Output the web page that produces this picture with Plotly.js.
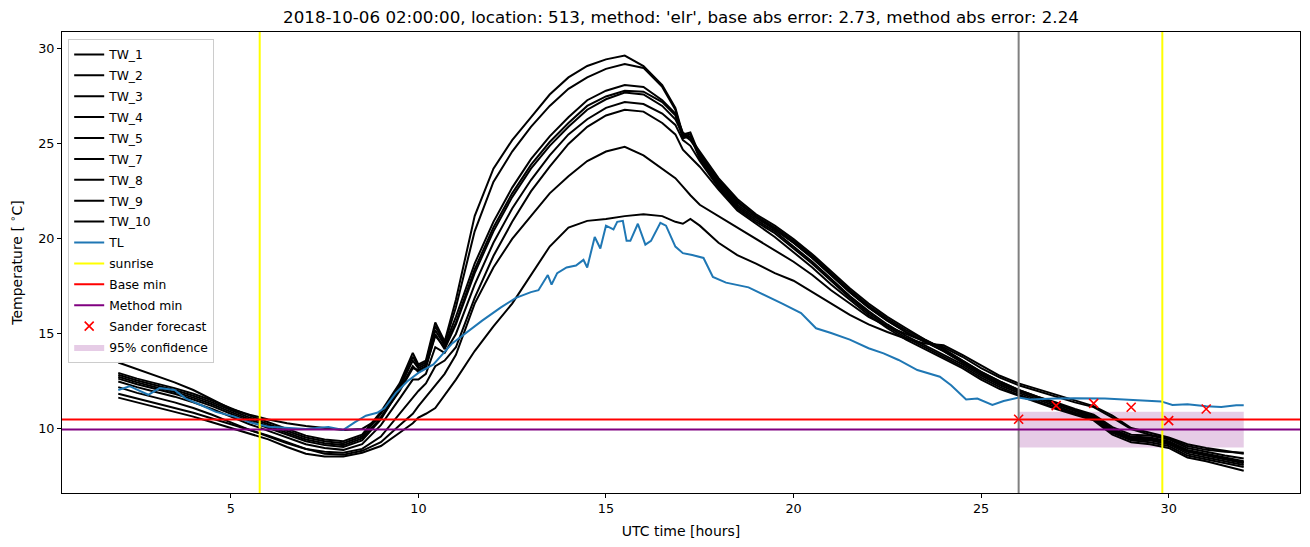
<!DOCTYPE html>
<html>
<head>
<meta charset="utf-8">
<script src="https://cdn.plot.ly/plotly-3.0.1.min.js"></script>
<style>
html,body{margin:0;padding:0;background:#fff;}
#chart{width:1310px;height:547px;}
</style>
</head>
<body>
<div id="chart"></div>
<script>
// ---- data ----
const hours = [2,2.5,3,3.5,4,4.5,5,5.5,6,6.5,7,7.5,8,8.5,9,9.5,
  9.85,10,10.2,10.45,10.7,11,
  11.5,12,12.5,13,13.5,14,14.5,15,15.5,16,16.5,
  16.85,17.05,17.25,17.5,
  18,18.5,19,19.5,20,20.5,21,21.5,22,22.5,23,23.5,24,24.5,25,25.5,26,26.5,27,27.5,28,28.5,29,29.5,30,30.5,31,31.5,32];

const twNames = ['TW_1','TW_2','TW_3','TW_4','TW_5','TW_7','TW_8','TW_9','TW_10'];

const tw1 = [12.95,12.65,12.4,12.15,11.85,11.5,11.1,10.7,10.35,10.0,9.65,9.45,9.35,9.7,10.9,12.4,
  14.0,13.4,13.6,15.6,14.6,16.8,
  21.2,23.7,25.2,26.4,27.6,28.5,29.1,29.45,29.65,29.1,28.1,
  26.9,25.5,25.6,24.4,
  23.0,21.9,21.2,20.6,19.9,19.1,18.2,17.3,16.5,15.8,15.2,14.7,14.2,13.6,13.0,12.5,12.05,11.7,11.35,11.0,10.7,10.0,9.6,9.55,9.35,8.9,8.7,8.5,8.3];
const tw2 = [12.85,12.55,12.3,12.05,11.75,11.4,11.0,10.6,10.25,9.9,9.55,9.35,9.25,9.6,10.8,12.3,
  13.8,13.3,13.5,15.4,14.5,16.4,
  20.4,23.0,24.6,25.9,27.0,27.9,28.5,28.95,29.2,29.0,28.0,
  26.8,25.4,25.5,24.3,
  22.9,21.8,21.1,20.5,19.8,19.0,18.1,17.2,16.4,15.7,15.1,14.6,14.1,13.5,12.9,12.4,12.0,11.65,11.3,10.95,10.6,9.9,9.5,9.45,9.25,8.8,8.6,8.4,8.2];
const tw3 = [12.75,12.45,12.2,11.95,11.65,11.3,10.9,10.5,10.15,9.8,9.45,9.25,9.15,9.5,10.6,12.2,
  13.6,13.2,13.4,15.2,14.4,15.9,
  18.7,20.9,22.7,24.2,25.4,26.4,27.3,27.8,28.1,28.0,27.3,
  26.6,25.6,25.3,24.6,
  23.2,22.1,21.3,20.7,20.0,19.2,18.3,17.4,16.6,15.9,15.3,14.7,14.2,13.6,13.0,12.5,12.05,11.7,11.4,11.05,10.75,10.1,9.7,9.65,9.45,9.0,8.8,8.6,8.45];
const tw4 = [13.5,13.15,12.8,12.45,12.05,11.55,11.05,10.75,10.5,10.3,10.15,10.05,9.95,10.0,10.6,12.0,
  13.2,13.1,13.3,14.9,14.3,15.6,
  18.4,20.6,22.4,23.9,25.1,26.1,27.0,27.5,27.8,27.75,27.2,
  26.5,25.3,25.4,24.2,
  22.8,21.7,21.0,20.4,19.6,18.8,17.9,17.0,16.2,15.5,14.9,14.4,13.9,13.4,12.8,12.3,11.9,11.55,11.2,10.85,10.55,9.85,9.45,9.4,9.2,8.7,8.5,8.3,8.1];
const tw5 = [12.65,12.35,12.1,11.85,11.55,11.2,10.8,10.4,10.05,9.7,9.35,9.15,9.05,9.4,10.5,12.1,
  13.3,13.0,13.2,15.0,14.2,15.5,
  18.2,20.4,22.2,23.7,24.9,25.9,26.8,27.35,27.7,27.6,27.0,
  26.3,25.5,25.2,24.5,
  23.1,22.0,21.2,20.5,19.8,19.0,18.1,17.2,16.4,15.7,15.1,14.6,14.1,13.5,12.9,12.4,12.0,11.65,11.3,10.95,10.65,9.95,9.55,9.5,9.3,8.85,8.65,8.45,8.25];
const tw7 = [12.5,12.2,11.95,11.7,11.4,11.05,10.65,10.25,9.9,9.55,9.2,9.0,8.9,9.2,10.2,11.6,
  12.6,12.6,12.9,14.3,14.0,15.0,
  17.6,19.8,21.6,23.1,24.4,25.5,26.3,26.9,27.2,27.1,26.6,
  26.0,25.2,24.9,24.1,
  22.7,21.6,20.9,20.3,19.5,18.7,17.8,16.9,16.1,15.4,14.8,14.3,13.8,13.3,12.7,12.2,11.8,11.45,11.1,10.8,10.5,9.8,9.4,9.3,9.1,8.6,8.4,8.2,8.0];
const tw8 = [12.2,11.9,11.65,11.4,11.1,10.75,10.35,9.95,9.6,9.25,8.95,8.8,8.75,8.95,9.6,10.8,
  11.6,12.0,12.4,13.3,13.6,14.3,
  16.9,19.1,20.9,22.5,23.8,25.0,25.9,26.5,26.8,26.7,26.1,
  25.5,24.7,24.3,23.8,
  22.6,21.5,20.8,20.1,19.3,18.5,17.6,16.8,16.0,15.3,14.7,14.2,13.7,13.2,12.6,12.1,11.75,11.4,11.05,10.75,10.45,9.7,9.3,9.2,9.0,8.5,8.3,8.05,7.8];
const tw9 = [11.85,11.6,11.35,11.1,10.85,10.55,10.25,9.95,9.65,9.3,8.95,8.7,8.65,8.85,9.3,10.2,
  10.8,11.2,11.7,12.3,12.9,13.9,
  16.6,18.5,20.0,21.2,22.4,23.3,24.1,24.6,24.85,24.4,23.7,
  23.2,22.75,22.3,21.8,
  21.2,20.6,20.0,19.4,18.8,18.1,17.3,16.6,15.9,15.4,15.0,14.6,14.3,13.8,13.2,12.7,12.3,12.0,11.7,11.4,11.15,10.6,10.0,9.7,9.5,9.1,8.9,8.8,8.75];
const tw10 = [11.65,11.4,11.15,10.9,10.65,10.35,10.05,9.75,9.45,9.05,8.7,8.55,8.55,8.75,9.1,9.8,
  10.3,10.6,10.8,11.1,11.8,12.6,
  14.1,15.4,16.6,18.1,19.6,20.6,20.95,21.05,21.2,21.3,21.2,
  20.9,20.8,21.05,20.7,
  19.8,19.15,18.7,18.2,17.8,17.2,16.6,16.0,15.5,15.1,14.75,14.5,14.4,13.9,13.35,12.8,12.4,12.1,11.8,11.5,11.2,10.7,10.05,9.8,9.55,9.2,9.0,8.85,8.7];

const twSeries = [tw1,tw2,tw3,tw4,tw5,tw7,tw8,tw9,tw10];

const tlHours = [2.0,2.3,2.8,3.1,3.5,3.8,4.2,4.6,5.1,5.5,6.0,6.5,7.0,7.6,8.0,8.3,8.6,8.9,9.1,9.4,9.7,10.0,10.4,10.9,11.3,11.7,12.2,12.6,13.0,13.2,13.45,13.55,13.7,13.95,14.2,14.4,14.5,14.7,14.85,15.0,15.2,15.3,15.45,15.55,15.65,15.85,16.05,16.2,16.45,16.6,16.85,17.05,17.3,17.6,17.85,18.2,18.8,19.3,19.7,20.2,20.6,21.0,21.5,22.0,22.4,22.8,23.3,23.9,24.2,24.6,24.9,25.3,25.6,26.0,26.3,27.0,27.5,28.3,29.2,29.8,30.1,30.5,31.0,31.4,31.8,32.0];
const tlValues = [12.05,12.25,11.8,12.15,12.05,11.6,11.26,10.9,10.65,10.35,10.12,10.05,10.0,10.1,9.95,10.35,10.7,10.85,11.1,11.9,12.5,12.95,13.4,14.5,15.1,15.7,16.4,16.9,17.2,17.3,18.1,17.6,18.2,18.5,18.6,18.9,18.5,20.1,19.5,20.7,20.5,20.9,20.95,19.9,19.9,20.8,19.7,19.9,20.85,20.7,19.6,19.25,19.15,19.0,18.0,17.7,17.45,17.0,16.6,16.1,15.3,15.05,14.7,14.25,13.98,13.63,13.1,12.75,12.3,11.55,11.6,11.26,11.47,11.65,11.55,11.6,11.62,11.6,11.5,11.45,11.26,11.3,11.2,11.15,11.25,11.25];

const sunriseHours = [5.77, 29.83];
const forecastStart = 26;
const baseMin = 10.5;
const methodMin = 9.97;
const sanderHours = [26,27,28,29,30,31];
const sanderValues = [10.51,11.23,11.35,11.14,10.44,11.05];
const confHours = [26,32];
const confLow = 9.02;
const confHigh = 10.91;

const titleText = "2018-10-06 02:00:00, location: 513, method: 'elr', base abs error: 2.73, method abs error: 2.24";

// ---- traces ----
const traces = [];
traces.push({
  x:[confHours[0],confHours[1],confHours[1],confHours[0],confHours[0]],
  y:[confLow,confLow,confHigh,confHigh,confLow],
  type:'scatter', mode:'lines', fill:'toself',
  fillcolor:'rgba(128,0,128,0.2)', line:{width:0,color:'rgba(128,0,128,0)'},
  name:'95% confidence', legendrank:1014, legendgroup:'g14', hoverinfo:'skip'
});
twSeries.forEach((s,i)=>{
  traces.push({x:hours,y:s,type:'scatter',mode:'lines',name:twNames[i],
    line:{color:'#000000',width:2},legendrank:1000+i,legendgroup:'g'+i});
});
traces.push({x:tlHours,y:tlValues,type:'scatter',mode:'lines',name:'TL',
  line:{color:'#1f77b4',width:2},legendrank:1009,legendgroup:'g9'});
traces.push({x:[null],y:[null],type:'scatter',mode:'lines',name:'sunrise',
  line:{color:'#ffff00',width:2},legendrank:1010,legendgroup:'g10'});
traces.push({x:[null],y:[null],type:'scatter',mode:'lines',name:'Base min',
  line:{color:'#ff0000',width:2},legendrank:1011,legendgroup:'g11'});
traces.push({x:[null],y:[null],type:'scatter',mode:'lines',name:'Method min',
  line:{color:'#800080',width:2},legendrank:1012,legendgroup:'g12'});
traces.push({x:sanderHours,y:sanderValues,type:'scatter',mode:'markers',name:'Sander forecast',
  marker:{symbol:'x-thin-open',size:9,color:'#ff0000',line:{color:'#ff0000',width:1.6}},legendrank:1013,legendgroup:'g13'});

// ---- shapes ----
const shapes = [];
sunriseHours.forEach(h=>{
  shapes.push({type:'line',xref:'x',yref:'paper',x0:h,x1:h,y0:0,y1:1,layer:'above',
    line:{color:'#ffff00',width:2}});
});
shapes.push({type:'line',xref:'x',yref:'paper',x0:forecastStart,x1:forecastStart,y0:0,y1:1,layer:'above',
  line:{color:'#808080',width:2}});
shapes.push({type:'line',xref:'paper',yref:'y',x0:0,x1:1,y0:baseMin,y1:baseMin,layer:'above',
  line:{color:'#ff0000',width:2}});
shapes.push({type:'line',xref:'paper',yref:'y',x0:0,x1:1,y0:methodMin,y1:methodMin,layer:'above',
  line:{color:'#800080',width:2}});

const fam = 'DejaVu Sans, sans-serif';
const tickFont = {family:fam, color:'#000', size:12.8};
const axTitleFont = {family:fam, color:'#000', size:14};

const layout = {
  width:1310, height:547,
  margin:{l:62,r:10,t:32,b:54,pad:0},
  paper_bgcolor:'#fff', plot_bgcolor:'#fff',
  font:{family:fam,color:'#000',size:12},
  showlegend:true,
  title:{text:titleText, font:{family:fam,size:16.7,color:'#000'},
    x:0.5, xref:'paper', xanchor:'center', y:1-17/547, yref:'container', yanchor:'middle'},
  xaxis:{range:[0.5,33.5], tickvals:[5,10,15,20,25,30], ticks:'outside', ticklen:4, tickwidth:1,
    tickcolor:'#000', showline:true, linecolor:'#000', linewidth:1, mirror:true,
    showgrid:false, zeroline:false, tickfont:tickFont,
    title:{text:'UTC time [hours]', font:axTitleFont, standoff:10}},
  yaxis:{range:[6.63,30.89], tickvals:[10,15,20,25,30], ticks:'outside', ticklen:4, tickwidth:1,
    tickcolor:'#000', showline:true, linecolor:'#000', linewidth:1, mirror:true,
    showgrid:false, zeroline:false, tickfont:tickFont,
    title:{text:'Temperature [ <sup>∘</sup>C]', font:axTitleFont, standoff:12}},
  legend:{x:0.005, y:0.985, xanchor:'left', yanchor:'top', bgcolor:'rgba(255,255,255,0.8)',
    bordercolor:'#cccccc', borderwidth:1, font:{family:fam,size:12.3,color:'#000'},
    traceorder:'grouped', tracegroupgap:1.9},
  shapes:shapes
};

Plotly.newPlot('chart', traces, layout, {displayModeBar:false, staticPlot:true});
</script>
</body>
</html>
